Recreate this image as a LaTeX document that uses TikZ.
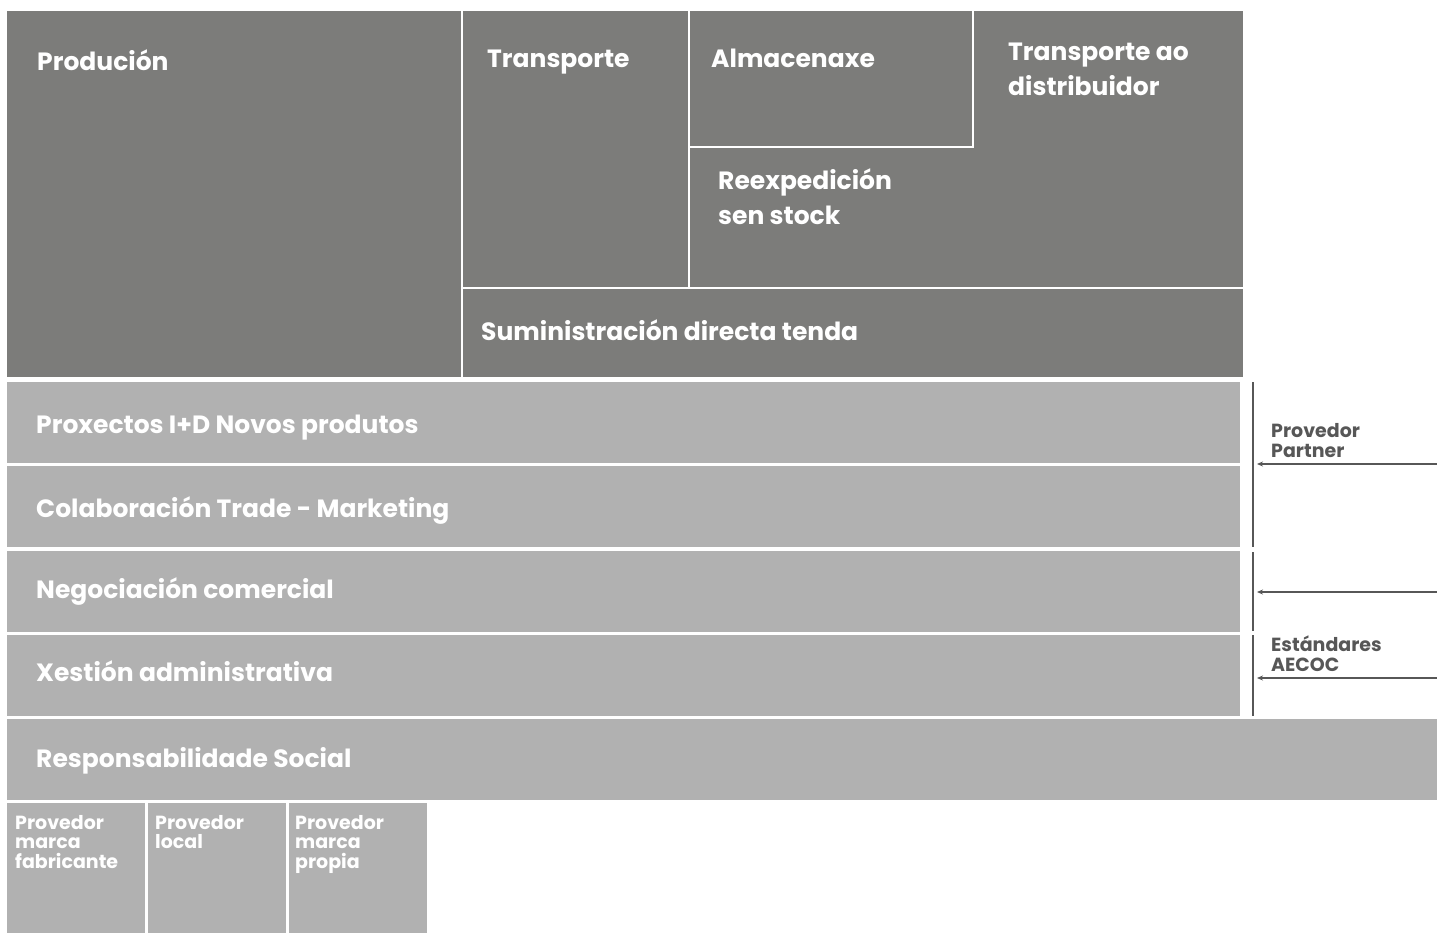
\documentclass[tikz,border=0pt]{standalone}
\usepackage{fontspec}
\setmainfont{Poppins}
\usetikzlibrary{arrows.meta}
\definecolor{darkgrey}{HTML}{7C7C7A}
\definecolor{lightgrey}{HTML}{B1B1B1}
\definecolor{ink}{HTML}{575757}

\begin{document}
\begin{tikzpicture}[x=1pt,y=-1pt,
  big/.style={anchor=base west,inner sep=0,text=white,align=left,
    font=\bfseries\fontsize{25}{35}\selectfont},
  small/.style={anchor=base west,inner sep=0,text=white,align=left,
    font=\bfseries\fontsize{19}{19.5}\selectfont},
  side/.style={small,text=ink},
  band/.style={anchor=north west,fill=lightgrey,inner sep=0,minimum height=81pt},
  cell/.style={anchor=north west,fill=lightgrey,inner sep=0,minimum width=138pt,minimum height=130pt},
  divider/.style={white,line width=2.5pt},
  bracket/.style={ink,line width=1.2pt},
  feed/.style={ink,line width=1.2pt,-{Stealth[length=6pt,width=5pt]}}]
\useasboundingbox (0,0) rectangle (1437,933);

% upper block (base line of the last text line is given for two-line labels)
\fill[darkgrey] (7,11) rectangle (1243,377);
\draw[divider] (462,11) -- (462,377);
\draw[divider] (689,11) -- (689,288);
\draw[divider] (463,288) -- (1243,288);
\draw[divider] (689,147) -- (973,147) -- (973,11);

\node[big] (prod) at (37,71) {Produción};
\node[big] (trans) at (487,68) {Transporte};
\node[big] (almac) at (711,68) {Almacenaxe};
\node[big] (dist) at (1008,96) {Transporte ao\\distribuidor};
\node[big] (reexp) at (718,225) {Reexpedición\\sen stock};
\node[big] (tenda) at (481,340) {Suministración directa tenda};

% bands
\node[band,minimum width=1233pt] (b1) at (7,382) {};
\node[band,minimum width=1233pt] (b2) at (7,466) {};
\node[band,minimum width=1233pt] (b3) at (7,551) {};
\node[band,minimum width=1233pt] (b4) at (7,635) {};
\node[band,minimum width=1430pt] (b5) at (7,719) {};

\node[big] (proxec) at (36,433) {Proxectos I+D Novos produtos};
\node[big] (colab) at (36,517) {Colaboración Trade - Marketing};
\node[big] (negoc) at (36,598) {Negociación comercial};
\node[big] (xest) at (36,681) {Xestión administrativa};
\node[big] (resp) at (36,767) {Responsabilidade Social};

% suppliers
\node[cell] (c1) at (7,803) {};
\node[cell] (c2) at (148,803) {};
\node[cell] (c3) at (289,803) {};
\node[small] (fab) at (15,868) {Provedor\\marca\\fabricante};
\node[small] (local) at (155,848.5) {Provedor\\local};
\node[small] (propia) at (295,868) {Provedor\\marca\\propia};

% side inputs
\coordinate (k1) at (1253,382); \coordinate (k2) at (1253,547);
\coordinate (k3) at (1253,552); \coordinate (k4) at (1253,631);
\coordinate (k5) at (1253,635); \coordinate (k6) at (1253,716);
\draw[bracket] (k1) -- (k2) (k3) -- (k4) (k5) -- (k6);

\coordinate (in1) at (1437,464); \coordinate (at1) at (1257,464);
\coordinate (in2) at (1437,592); \coordinate (at2) at (1257,592);
\coordinate (in3) at (1437,678); \coordinate (at3) at (1257,678);
\draw[feed] (in1) -- (at1);
\draw[feed] (in2) -- (at2);
\draw[feed] (in3) -- (at3);

\node[side] (partner) at (1271,457) {Provedor\\Partner};
\node[side] (aecoc) at (1271,671) {Estándares\\AECOC};
\end{tikzpicture}
\end{document}
